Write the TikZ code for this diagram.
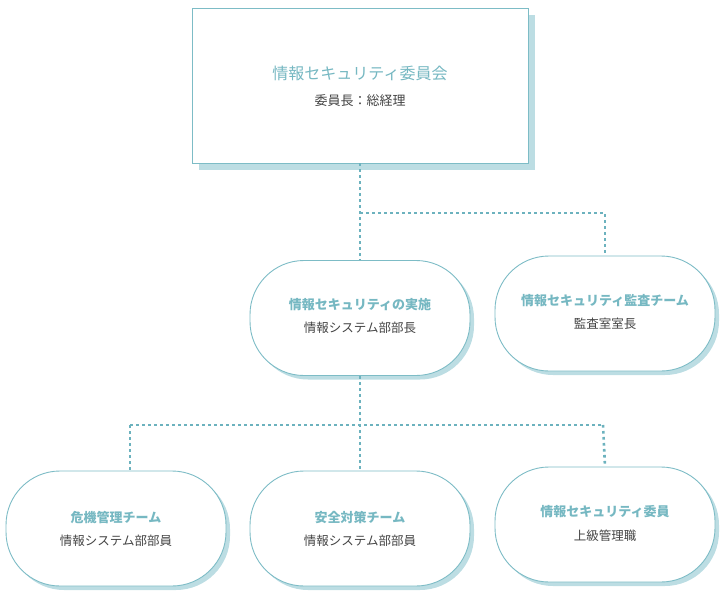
\documentclass[tikz,border=0pt]{standalone}
\usepackage{fontspec}
\setmainfont{Noto Sans CJK JP}
\usetikzlibrary{shadows}
\definecolor{tealline}{RGB}{125,188,198}
\definecolor{tealdot}{RGB}{108,178,190}
\definecolor{tealshadow}{RGB}{188,221,227}
\definecolor{tealtext}{RGB}{118,184,194}
\definecolor{subgray}{RGB}{68,68,68}
\begin{document}
\begin{tikzpicture}[x=1pt,y=-1pt,
    board/.style={draw=tealline, line width=0.9pt, fill=white, minimum width=336pt, minimum height=155pt,
        drop shadow={shadow xshift=7pt, shadow yshift=-7pt, fill=tealshadow, opacity=1}},
    pill/.style={draw=tealline, line width=0.9pt, fill=white, minimum width=220pt, minimum height=115pt,
        rounded corners=54pt, drop shadow={shadow xshift=4pt, shadow yshift=-4pt, fill=tealshadow, opacity=1}},
    headtext/.style={text=tealtext, font=\bfseries\fontsize{13pt}{15pt}\selectfont},
    subtext/.style={text=subgray, font=\fontsize{12.5pt}{15pt}\selectfont},
    dotline/.style={draw=tealdot, line width=2.6pt, dash pattern=on 2.6pt off 3.4pt}]
    \useasboundingbox (0,0) rectangle (728,592);

    % Committee
    \node[board] (council) at (360,85.5) {};
    \node[text=tealtext, font=\fontsize{16pt}{18pt}\selectfont] (council-t) at (360,73) {情報セキュリティ委員会};
    \node[subtext, font=\fontsize{13pt}{15pt}\selectfont] (council-s) at (360,101) {委員長：総経理};

    % Second level
    \node[pill] (impl) at (360,318) {};
    \node[headtext] (impl-t) at (360,305) {情報セキュリティの実施};
    \node[subtext] (impl-s) at (360,328) {情報システム部部長};

    \node[pill] (audit) at (605,313.5) {};
    \node[headtext] (audit-t) at (605,301) {情報セキュリティ監査チーム};
    \node[subtext] (audit-s) at (605,324) {監査室室長};

    % Teams
    \node[pill] (crisis) at (116,528.5) {};
    \node[headtext] (crisis-t) at (116,517) {危機管理チーム};
    \node[subtext] (crisis-s) at (116,541) {情報システム部部員};

    \node[pill] (safety) at (360,528.5) {};
    \node[headtext] (safety-t) at (360,517) {安全対策チーム};
    \node[subtext] (safety-s) at (360,541) {情報システム部部員};

    \node[pill] (member) at (605,524.5) {};
    \node[headtext] (member-t) at (605,512) {情報セキュリティ委員};
    \node[subtext] (member-s) at (605,536) {上級管理職};

    % Connections
    \coordinate (fork1) at (360,213);
    \coordinate (fork2) at (130,425);
    \coordinate (fork3) at (603,425);
    \draw[dotline] (council.south) -- (impl.north);
    \draw[dotline] (fork1) -| (audit.north);
    \draw[dotline] (impl.south) -- (safety.north);
    \draw[dotline] (fork2) -- (fork3);
    \draw[dotline] (fork2) -- (fork2 |- crisis.north);
    \draw[dotline] (fork3) -- (member.north);
\end{tikzpicture}
\end{document}
